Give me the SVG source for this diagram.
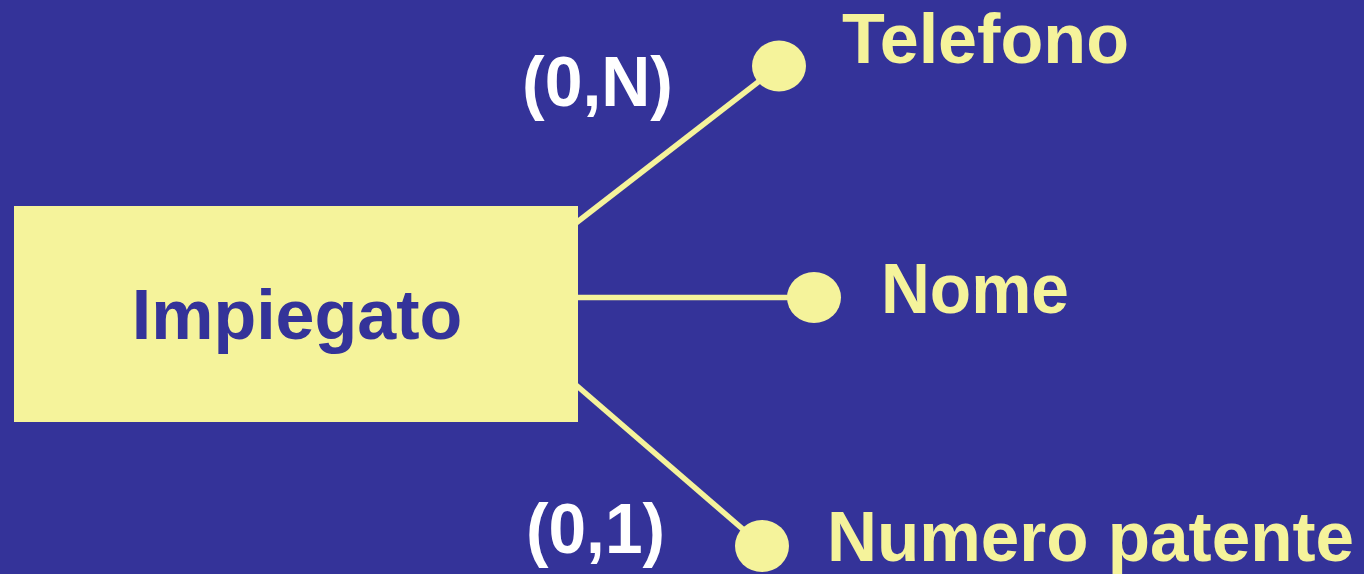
<svg xmlns="http://www.w3.org/2000/svg" width="1364" height="574" viewBox="0 0 1364 574">
  <style>
    .lbl { font-family: "Liberation Sans", Arial, sans-serif; font-weight: bold; font-size: 70px; }
    .attr { fill: #F5F39B; }
    .card { fill: #FFFFFF; }
    .link { stroke: #F5F39B; stroke-width: 5.5; fill: none; }
    .dot { fill: #F5F39B; }
  </style>
  <rect width="1364" height="574" fill="#343399"/>

  <g id="connectors">
    <line class="link" x1="576" y1="223" x2="779" y2="66"/>
    <line class="link" x1="576" y1="297.5" x2="814" y2="297.5"/>
    <line class="link" x1="576" y1="385" x2="760" y2="544"/>
  </g>

  <g id="impiegato">
    <rect x="14" y="206" width="564" height="216" fill="#F5F39B"/>
    <text class="lbl" x="297" y="339" text-anchor="middle" fill="#343399">Impiegato</text>
  </g>

  <g id="telefono">
    <ellipse class="dot" cx="779" cy="66" rx="27" ry="25.5"/>
    <text class="lbl attr" x="842" y="63" textLength="287" lengthAdjust="spacingAndGlyphs">Telefono</text>
  </g>

  <g id="nome">
    <ellipse class="dot" cx="814" cy="297.5" rx="27" ry="25.5"/>
    <text class="lbl attr" x="881" y="313" textLength="188" lengthAdjust="spacingAndGlyphs">Nome</text>
  </g>

  <g id="numero-patente">
    <ellipse class="dot" cx="762" cy="546" rx="27" ry="26"/>
    <text class="lbl attr" x="827" y="561" textLength="527" lengthAdjust="spacingAndGlyphs">Numero patente</text>
  </g>

  <g id="cardinalities">
    <text class="lbl card" x="522" y="106" textLength="151" lengthAdjust="spacingAndGlyphs">(0,N)</text>
    <text class="lbl card" x="526" y="553" textLength="139" lengthAdjust="spacingAndGlyphs">(0,1)</text>
  </g>
</svg>
